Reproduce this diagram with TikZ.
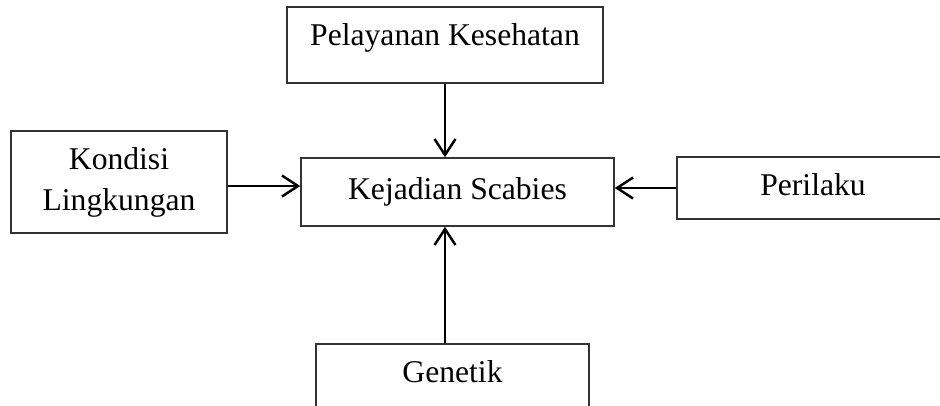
\documentclass[tikz,border=0pt]{standalone}
\usepackage{fontspec}
\setmainfont{Liberation Serif}
\usetikzlibrary{arrows.meta, positioning}

\begin{document}
\begin{tikzpicture}[
    factorbox/.style={draw=black!80, line width=0.9pt, inner sep=0pt, align=center, font=\fontsize{18}{23.3}\selectfont},
    textfix/.style={text height=0.45cm, text depth=0.15cm},
    tallfix/.style={text height=0.45cm, text depth=0.45cm},
    arrow/.style={line width=1.4pt, -{Straight Barb[length=0.32cm, width=0.42cm, line width=1.4pt]}}
]
    \useasboundingbox (0, 0) rectangle (18.8, -8.1);
    \clip (0, 0) rectangle (18.8, -8.1);

    \node[factorbox, textfix, minimum width=6.26cm, minimum height=1.36cm] (ks) at (9.15, -3.84) {Kejadian Scabies};
    \node[factorbox, tallfix, minimum width=6.32cm, minimum height=1.52cm] (pk) at (8.90, -0.90) {Pelayanan Kesehatan};
    \node[factorbox, minimum width=4.32cm, minimum height=2.04cm] (kl) at (2.38, -3.64) {Kondisi\\Lingkungan};
    \node[factorbox, textfix, minimum width=5.44cm, minimum height=1.24cm] (per) at (16.26, -3.76) {Perilaku};
    \node[factorbox, tallfix, minimum width=5.46cm, minimum height=1.52cm] (gen) at (9.05, -7.64) {Genetik};

    \draw[arrow] (pk.south) -- (pk.south |- ks.north);
    \draw[arrow] ([yshift=-0.08cm]kl.east) -- ([yshift=-0.08cm]kl.east -| ks.west);
    \draw[arrow] (per.west) -- (per.west -| ks.east);
    \draw[arrow] (gen.north -| pk.south) -- (pk.south |- ks.south);
\end{tikzpicture}
\end{document}
